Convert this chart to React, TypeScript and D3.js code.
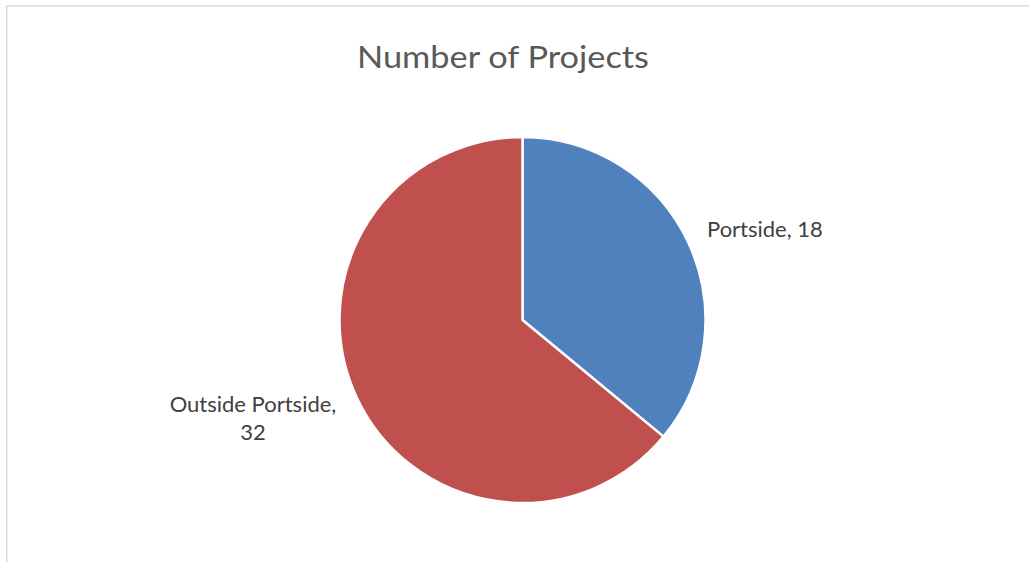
import { useEffect, useRef } from "react";
import * as d3 from "d3";

const categories = ["Portside", "Outside Portside"];
const values = [18, 32];
const colors = ["#4F81BD", "#C0504D"];

const W = 1029;
const H = 562;
const CX = 522.5;
const CY = 320;
const R = 183;
const FONT = "Lato, 'Open Sans', sans-serif";

export default function App() {
  const svgRef = useRef<SVGSVGElement | null>(null);

  useEffect(() => {
    const svg = d3.select(svgRef.current);
    svg.selectAll("*").remove();

    // Frame (left + top edges only are visible).
    svg
      .append("path")
      .attr("d", `M6.75 ${H} V5.75 H${W}`)
      .attr("fill", "none")
      .attr("stroke", "#d9d9d9")
      .attr("stroke-width", 1.5);

    svg
      .append("text")
      .attr("x", 503)
      .attr("y", 68)
      .attr("text-anchor", "middle")
      .attr("fill", "#595959")
      .attr("font-family", FONT)
      .attr("font-size", 31)
      .attr("textLength", 292)
      .attr("lengthAdjust", "spacingAndGlyphs")
      .text("Number of Projects");

    const data = categories.map((c, i) => ({ name: c, value: values[i], color: colors[i] }));
    const pie = d3
      .pie<(typeof data)[number]>()
      .sort(null)
      .value((d) => d.value);
    const arc = d3.arc<d3.PieArcDatum<(typeof data)[number]>>().innerRadius(0).outerRadius(R);

    const g = svg.append("g").attr("transform", `translate(${CX},${CY})`);
    g.selectAll("path")
      .data(pie(data))
      .join("path")
      .attr("d", arc)
      .attr("fill", (d) => d.data.color)
      .attr("stroke", "#fff")
      .attr("stroke-width", 2.5)
      .attr("stroke-linejoin", "round");

    // Data labels.
    const lab = svg
      .append("g")
      .attr("fill", "#404040")
      .attr("font-family", FONT)
      .attr("font-size", 22);
    lab
      .append("text")
      .attr("x", 707)
      .attr("y", 237)
      .text(`${categories[0]}, ${values[0]}`);
    const t2 = lab.append("text").attr("text-anchor", "middle");
    t2.append("tspan").attr("x", 253).attr("y", 412).text(`${categories[1]},`);
    t2.append("tspan").attr("x", 253).attr("y", 440).text(`${values[1]}`);
  }, []);

  return (
    <svg
      ref={svgRef}
      width={W}
      height={H}
      viewBox={`0 0 ${W} ${H}`}
      style={{ position: "absolute", left: 0, top: 0, background: "#fff" }}
    />
  );
}
